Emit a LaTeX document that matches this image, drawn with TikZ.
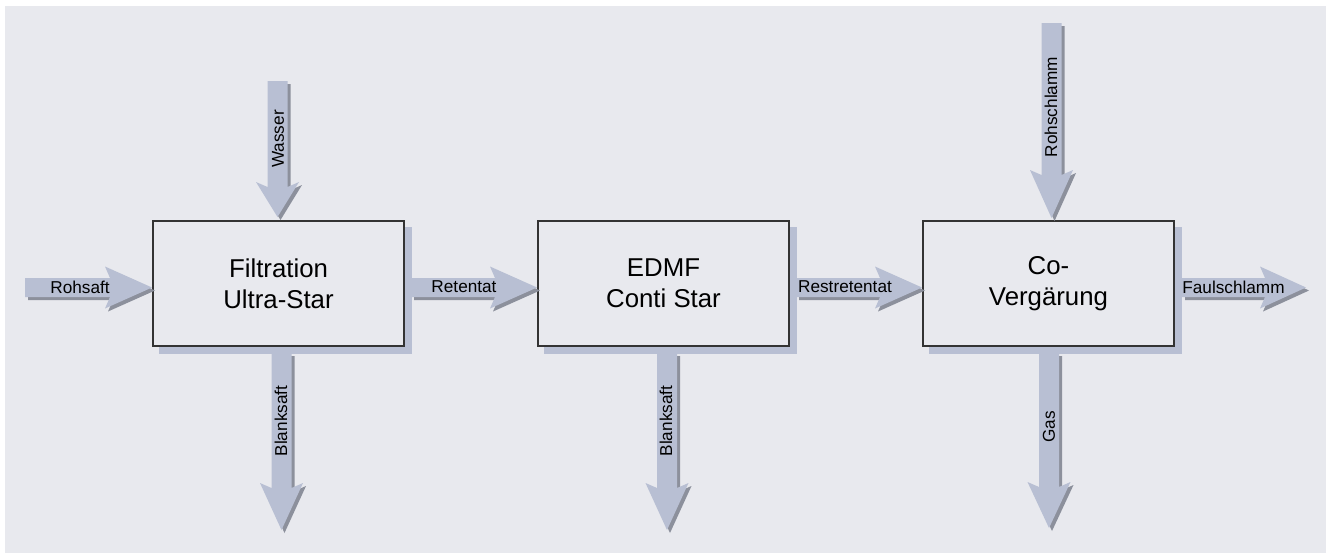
\documentclass[tikz,border=0pt]{standalone}
\usepackage{fontspec}
\setmainfont{Liberation Sans}
\usetikzlibrary{backgrounds}
\definecolor{bgcol}{HTML}{E8E9EE}
\definecolor{arrowfill}{HTML}{B8BFD3}
\definecolor{arrowshade}{HTML}{8C909C}
\definecolor{boxline}{HTML}{333333}
% horizontal fat arrow: tail x, centre y, head start x, tip x
\newcommand{\harrow}[4]{%
  \fill[arrowshade, shift={(3,3)}] (#1,#2-9.5) -- (#3+5,#2-9.5) -- (#3,#2-21) -- (#4,#2) -- (#3,#2+21) -- (#3+5,#2+9.5) -- (#1,#2+9.5) -- cycle;
  \fill[arrowfill] (#1,#2-9.5) -- (#3+5,#2-9.5) -- (#3,#2-21) -- (#4,#2) -- (#3,#2+21) -- (#3+5,#2+9.5) -- (#1,#2+9.5) -- cycle;}
% vertical fat arrow: centre x, top y, head start y, tip y
\newcommand{\varrow}[4]{%
  \fill[arrowshade, shift={(3,3)}] (#1-10,#2) -- (#1-10,#3+5) -- (#1-21.5,#3) -- (#1,#4) -- (#1+21.5,#3) -- (#1+10,#3+5) -- (#1+10,#2) -- cycle;
  \fill[arrowfill] (#1-10,#2) -- (#1-10,#3+5) -- (#1-21.5,#3) -- (#1,#4) -- (#1+21.5,#3) -- (#1+10,#3+5) -- (#1+10,#2) -- cycle;}
\begin{document}
\begin{tikzpicture}[x=0.5pt,y=-0.5pt,
  procbox/.style={draw=boxline, line width=0.6pt, fill=bgcol, minimum width=125.5pt, minimum height=62.5pt, inner sep=0pt, align=center, font=\fontsize{12.9}{15.5}\selectfont},
  hlabel/.style={inner sep=0pt, font=\fontsize{8.6}{10}\selectfont},
  vlabel/.style={inner sep=0pt, rotate=90, font=\fontsize{8.6}{10}\selectfont}]
\useasboundingbox (0,0) rectangle (1326,553);
\node[procbox] (f) at (278.5,283.5) {Filtration\\Ultra-Star};
\node[procbox] (e) at (663.5,283.5) {EDMF\\Conti Star};
\node[procbox] (c) at (1048.5,283.5) {Co-\\Vergärung};
\begin{scope}[on background layer]
  \fill[bgcol] (5,6) rectangle (1326,553);
  \foreach \b in {f,e,c}
    \fill[arrowfill] ([shift={(7,7)}]\b.south west) rectangle ([shift={(7,7)}]\b.north east);
\end{scope}
% horizontal arrows
\harrow{25}{287.5}{105}{152}
\harrow{411}{287.5}{490}{537}
\harrow{796}{287.5}{875}{922}
\harrow{1182}{287.5}{1260}{1306}
% vertical arrows
\varrow{277.5}{81}{182}{217}
\varrow{281.5}{353}{483}{530}
\varrow{667}{353}{483}{530}
\varrow{1051.5}{23}{170}{218}
\varrow{1049}{353}{482}{528}
% labels
\node[hlabel] (lrohsaft) at (80,287) {Rohsaft};
\node[hlabel] (lretentat) at (464,287) {Retentat};
\node[hlabel] (lrest) at (845,287) {Restretentat};
\node[hlabel] (lfaul) at (1233.5,287) {Faulschlamm};
\node[vlabel] (lwasser) at (278,139) {Wasser};
\node[vlabel] (lblank1) at (281,421) {Blanksaft};
\node[vlabel] (lblank2) at (666,421) {Blanksaft};
\node[vlabel] (lrohschlamm) at (1051,107) {Rohschlamm};
\node[vlabel] (lgas) at (1049,427) {Gas};
\end{tikzpicture}
\end{document}
